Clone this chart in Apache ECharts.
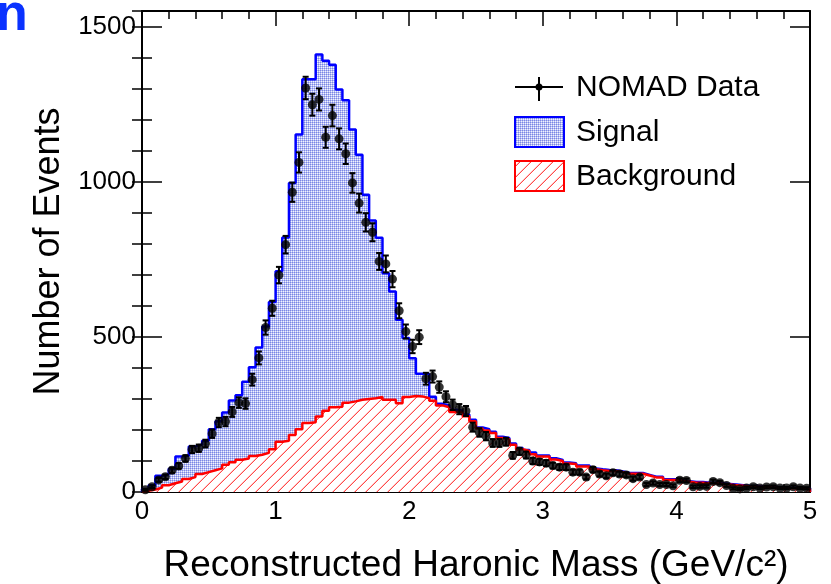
<!DOCTYPE html>
<html>
<head>
<meta charset="utf-8">
<script src="https://cdn.jsdelivr.net/npm/echarts@6/dist/echarts.min.js"></script>
<style>
html,body{margin:0;padding:0;background:#fff;}
#chart{width:831px;height:584px;}
</style>
</head>
<body>
<div id="chart"></div>
<script>
// ---- Data (100 bins of 0.05 GeV/c^2 from 0 to 5) ----
const binWidth = 0.05;
const xTickLabels = ['0', '1', '2', '3', '4', '5'];
const yTickLabels = ['0', '500', '1000', '1500'];

// NOMAD data counts per bin
const dataCounts = [
  7, 17, 39, 49, 70, 84, 108, 137, 141, 156,
  188, 224, 227, 258, 288, 285, 362, 432, 530, 592,
  699, 797, 966, 1062, 1302, 1248, 1265, 1143, 1213, 1138,
  1090, 996, 931, 869, 837, 743, 735, 686, 584, 517,
  469, 499, 365, 372, 338, 307, 281, 267, 261, 209,
  192, 180, 158, 158, 162, 118, 131, 119, 100, 97,
  93, 85, 80, 80, 64, 64, 48, 72, 58, 52,
  62, 58, 55, 43, 48, 24, 29, 24, 24, 20,
  38, 37, 17, 18, 18, 34, 30, 21, 12, 10,
  13, 17, 13, 16, 17, 13, 13, 17, 13, 12
];

// Signal + background (total MC) per bin
const signalTotal = [
  10, 22, 52, 57, 75, 114, 117, 147, 153, 165,
  202, 228, 256, 295, 312, 355, 402, 466, 533, 612,
  711, 820, 996, 1152, 1330, 1330, 1410, 1390, 1377, 1297,
  1262, 1168, 1087, 958, 875, 819, 705, 646, 555, 496,
  431, 381, 381, 307, 284, 280, 265, 262, 250, 233,
  208, 202, 194, 178, 174, 156, 142, 135, 127, 118,
  118, 109, 103, 95, 93, 85, 85, 76, 73, 71,
  70, 66, 61, 61, 61, 55, 49, 49, 41, 41,
  38, 35, 32, 32, 30, 30, 28, 26, 24, 22,
  20, 19, 18, 17, 16, 15, 14, 14, 13, 12
];

// Background per bin
const background = [
  4, 8, 14, 22, 28, 34, 42, 48, 58, 64,
  70, 76, 88, 96, 104, 108, 116, 120, 126, 138,
  162, 165, 184, 202, 222, 225, 243, 262, 273, 275,
  288, 292, 297, 300, 302, 306, 297, 297, 286, 306,
  309, 308, 302, 294, 279, 273, 258, 258, 244, 228,
  205, 198, 190, 174, 170, 152, 138, 132, 122, 114,
  114, 105, 100, 92, 90, 82, 82, 73, 70, 68,
  68, 64, 59, 59, 59, 53, 47, 47, 39, 39,
  36, 33, 30, 30, 28, 28, 26, 24, 22, 20,
  18, 17, 16, 15, 14, 13, 12, 12, 11, 10
];

// ---- helpers ----
function stepData(vals) {
  const out = [[0, 0]];
  for (let i = 0; i < vals.length; i++) out.push([+(i * binWidth).toFixed(3), vals[i]]);
  out.push([+(vals.length * binWidth).toFixed(3), vals[vals.length - 1]]);
  out.push([+(vals.length * binWidth).toFixed(3), 0]);
  return out;
}

function dotPattern() {
  const c = document.createElement('canvas');
  c.width = 2; c.height = 2;
  const g = c.getContext('2d');
  g.fillStyle = '#f2f3ff'; g.fillRect(0, 0, 2, 2);
  g.fillStyle = '#7a86e6'; g.fillRect(0, 0, 1, 1);
  g.fillStyle = '#b6bdf1'; g.fillRect(1, 0, 1, 1); g.fillRect(0, 1, 1, 1);
  return c;
}
function hatchPattern() {
  const n = 11;
  const c = document.createElement('canvas');
  c.width = n; c.height = n;
  const g = c.getContext('2d');
  g.fillStyle = '#ffffff'; g.fillRect(0, 0, n, n);
  for (let k = 0; k < n; k++) {
    g.fillStyle = '#ff4a4a';
    g.fillRect(k, n - 1 - k, 1, 1);
    g.fillStyle = '#ffc4c4';
    g.fillRect(k, (2 * n - 2 - k) % n, 1, 1);
  }
  return c;
}
const dots = dotPattern();
const hatch = hatchPattern();
const dotFill = { image: dots, repeat: 'repeat' };
const hatchFill = { image: hatch, repeat: 'repeat' };

const points = dataCounts.map((v, i) => [+((i + 0.5) * binWidth).toFixed(4), v]);
const errBars = dataCounts.map((v, i) => {
  const e = Math.sqrt(v);
  return [+((i + 0.5) * binWidth).toFixed(4), v - e, v + e];
});

const FONT = 'Liberation Sans, Arial, Helvetica, sans-serif';
const chart = echarts.init(document.getElementById('chart'), null, { renderer: 'canvas' });

const yMax = 1550;
const baseY = {
  type: 'value', min: 0, max: yMax,
  splitLine: { show: false },
  axisLine: { show: false }
};

const option = {
  animation: false,
  backgroundColor: '#fff',
  grid: { left: 142, right: 21, top: 11, bottom: 92, containLabel: false, outerBoundsMode: 'none' },
  xAxis: [
    {
      type: 'value', position: 'bottom', min: 0, max: 5, interval: 1,
      name: 'Reconstructed Haronic Mass (GeV/c²)',
      nameLocation: 'middle', nameGap: 55,
      nameTextStyle: { fontFamily: FONT, fontSize: 37, color: '#000' },
      axisLine: { show: true, onZero: false, lineStyle: { color: '#000', width: 2 } },
      axisTick: { show: true, inside: true, length: 15, lineStyle: { color: '#000', width: 1.5 } },
      minorTick: { show: true, splitNumber: 5, length: 8, lineStyle: { color: '#000', width: 1.5 } },
      axisLabel: {
        fontFamily: FONT, fontSize: 26, color: '#000', margin: 7,
        formatter: v => xTickLabels[Math.round(v)] || ''
      },
      splitLine: { show: false }
    },
    {
      type: 'value', position: 'top', min: 0, max: 5, interval: 1,
      axisLine: { show: true, onZero: false, lineStyle: { color: '#000', width: 2 } },
      axisTick: { show: true, inside: true, length: 15, lineStyle: { color: '#000', width: 1.5 } },
      minorTick: { show: true, splitNumber: 5, length: 8, lineStyle: { color: '#000', width: 1.5 } },
      axisLabel: { show: false },
      splitLine: { show: false }
    }
  ],
  yAxis: [
    Object.assign({}, baseY, {
      position: 'left', interval: 500,
      name: 'Number of Events', nameLocation: 'middle', nameGap: 68, nameRotate: 90,
      nameTextStyle: { fontFamily: FONT, fontSize: 36, color: '#000' },
      axisLine: { show: true, onZero: false, lineStyle: { color: '#000', width: 2 } },
      axisTick: { show: true, inside: true, length: 20, lineStyle: { color: '#000', width: 1.5 } },
      axisLabel: {
        fontFamily: FONT, fontSize: 26, color: '#000', margin: 6,
        formatter: v => (v % 500 === 0 ? yTickLabels[v / 500] : '')
      }
    }),
    Object.assign({}, baseY, {
      position: 'left', interval: 100,
      axisTick: { show: true, inside: true, length: 10, lineStyle: { color: '#000', width: 1.5 } },
      axisLabel: { show: false }
    }),
    Object.assign({}, baseY, {
      position: 'right', interval: 500,
      axisLine: { show: true, onZero: false, lineStyle: { color: '#000', width: 2 } },
      axisTick: { show: true, inside: true, length: 20, lineStyle: { color: '#000', width: 1.5 } },
      axisLabel: { show: false }
    }),
    Object.assign({}, baseY, {
      position: 'right', interval: 100,
      axisTick: { show: true, inside: true, length: 10, lineStyle: { color: '#000', width: 1.5 } },
      axisLabel: { show: false }
    })
  ],
  series: [
    {
      name: 'Signal', type: 'line', step: 'end',
      data: stepData(signalTotal),
      symbol: 'none', z: 2,
      lineStyle: { color: '#0000ff', width: 2.5 },
      areaStyle: { color: dotFill, opacity: 1 }
    },
    {
      name: 'Background', type: 'line', step: 'end',
      data: stepData(background),
      symbol: 'none', z: 3,
      lineStyle: { color: '#ff0000', width: 2.5 },
      areaStyle: { color: hatchFill, opacity: 1 }
    },
    {
      name: 'errors', type: 'custom', z: 4,
      renderItem: function (params, api) {
        const x = api.value(0), lo = api.value(1), hi = api.value(2);
        const a = api.coord([x, lo]);
        const b = api.coord([x, hi]);
        const cw = 3;
        const st = { stroke: '#000', lineWidth: 2 };
        return {
          type: 'group',
          children: [
            { type: 'line', shape: { x1: a[0], y1: a[1], x2: b[0], y2: b[1] }, style: st },
            { type: 'line', shape: { x1: a[0] - cw, y1: a[1], x2: a[0] + cw, y2: a[1] }, style: st },
            { type: 'line', shape: { x1: b[0] - cw, y1: b[1], x2: b[0] + cw, y2: b[1] }, style: st }
          ]
        };
      },
      encode: { x: 0, y: [1, 2] },
      data: errBars
    },
    {
      name: 'NOMAD Data', type: 'scatter', z: 5,
      data: points, symbol: 'circle', symbolSize: 9,
      itemStyle: { color: '#000' }
    }
  ],
  graphic: [
    { type: 'text', left: -4, top: -10, z: 10,
      style: { text: 'n', font: 'bold 52px ' + FONT, fill: '#0a32ff' } },
    // legend: data
    { type: 'line', z: 10, shape: { x1: 515, y1: 87, x2: 563, y2: 87 }, style: { stroke: '#000', lineWidth: 2 } },
    { type: 'line', z: 10, shape: { x1: 539, y1: 77, x2: 539, y2: 101 }, style: { stroke: '#000', lineWidth: 2 } },
    { type: 'circle', z: 10, shape: { cx: 539, cy: 87, r: 3.5 }, style: { fill: '#000' } },
    { type: 'text', z: 10, x: 576, y: 88,
      style: { text: 'NOMAD Data', font: '30px ' + FONT, fill: '#000', verticalAlign: 'middle' } },
    // legend: signal
    { type: 'rect', z: 10, shape: { x: 515, y: 117, width: 49, height: 30 },
      style: { fill: dotFill, stroke: '#0000ff', lineWidth: 2 } },
    { type: 'text', z: 10, x: 576, y: 133,
      style: { text: 'Signal', font: '30px ' + FONT, fill: '#000', verticalAlign: 'middle' } },
    // legend: background
    { type: 'rect', z: 10, shape: { x: 515, y: 161, width: 49, height: 30 },
      style: { fill: hatchFill, stroke: '#ff0000', lineWidth: 2 } },
    { type: 'text', z: 10, x: 576, y: 177,
      style: { text: 'Background', font: '30px ' + FONT, fill: '#000', verticalAlign: 'middle' } }
  ]
};
chart.setOption(option);
</script>
</body>
</html>
